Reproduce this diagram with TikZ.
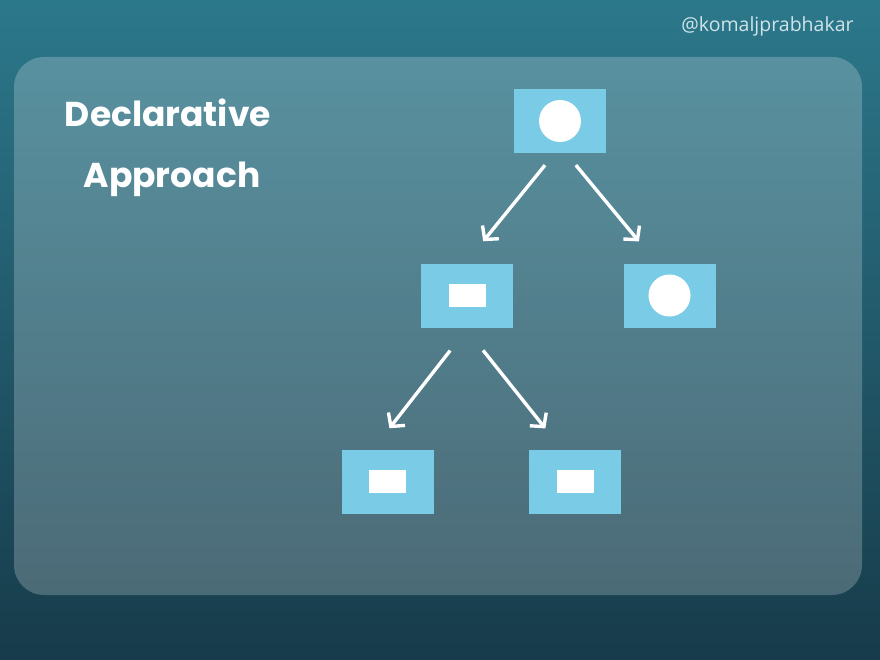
\documentclass[tikz,border=0pt]{standalone}
\usepackage{fontspec}
\usetikzlibrary{arrows.meta}
\newfontfamily\titlefont{Poppins}
\newfontfamily\markfont{Open Sans}
\definecolor{bgTop}{HTML}{2C788B}
\definecolor{bgBot}{HTML}{173B4A}
\definecolor{boxBlue}{HTML}{7ACCE6}
\definecolor{markGrey}{HTML}{CFE3E8}
\begin{document}
\begin{tikzpicture}[x=1pt, y=-1pt,
    box/.style={fill=boxBlue, minimum width=92pt, minimum height=64pt, inner sep=0pt},
    circBox/.style={box, path picture={\fill[white] (path picture bounding box.center) circle (21pt);}},
    rectBox/.style={box, path picture={\fill[white] ([xshift=-18.5pt, yshift=-11.5pt]path picture bounding box.center) rectangle ++(37pt,23pt);}},
    arr/.style={draw=white, line width=3.4pt, -{Straight Barb[length=9.5pt, width=21pt]}},
    title/.style={text=white, font=\titlefont\bfseries\fontsize{34.5}{40}\selectfont, anchor=base}
  ]

  % Background and panel
  \shade[top color=bgTop, bottom color=bgBot] (0,0) rectangle (880,660);
  \fill[white, fill opacity=0.22, rounded corners=30pt] (14,57) rectangle (862,595);
  \node[text=markGrey, font=\markfont\fontsize{19.5}{22}\selectfont, anchor=base] (mark) at (767.5,32) {@komaljprabhakar};

  % Title
  \node[title] (t1) at (168,127) {Declarative};
  \node[title] (t2) at (172,188) {Approach};

  % Tree
  \node[circBox] (root) at (560,121) {};
  \node[rectBox] (midL) at (467,295.5) {};
  \node[circBox] (midR) at (669.5,295.5) {};
  \node[rectBox] (botL) at (387.5,481.5) {};
  \node[rectBox] (botR) at (575,481.5) {};

  \draw[arr, shorten <=15.4pt, shorten >=28.4pt] ([xshift=-5.3pt]root.south) -- ([xshift=-1.7pt]midL.north);
  \draw[arr, shorten <=15.5pt, shorten >=28.4pt] ([xshift=6pt]root.south) -- ([xshift=-12.5pt]midR.north);
  \draw[arr, shorten <=29pt, shorten >=26.7pt] ([xshift=1pt]midL.south) -- ([xshift=-14.5pt]botL.north);
  \draw[arr, shorten <=29pt, shorten >=26.7pt] ([xshift=-2pt]midL.south) -- ([xshift=-13pt]botR.north);

\end{tikzpicture}
\end{document}
